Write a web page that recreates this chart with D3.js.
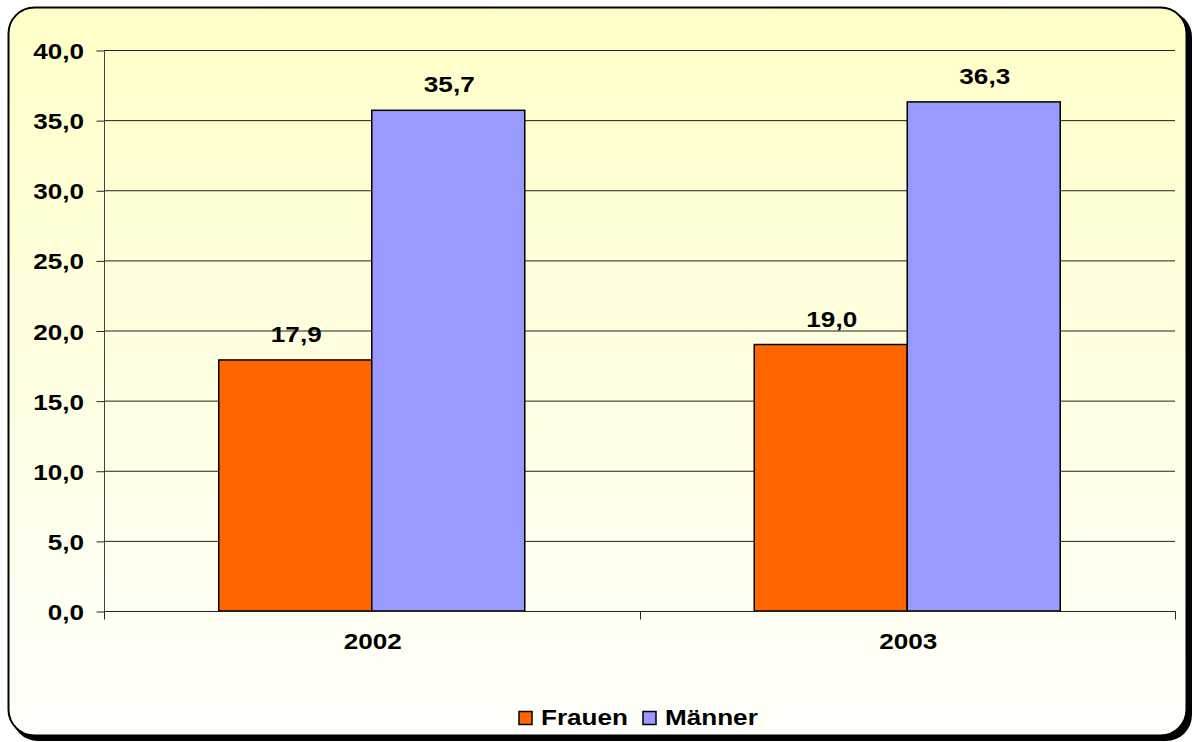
<!DOCTYPE html>
<html><head><meta charset="utf-8">
<script src="https://cdn.jsdelivr.net/npm/d3@7"></script>
<style>
html,body{margin:0;padding:0;background:#fff;}
svg{display:block;}
text{font-family:"Liberation Sans",Arial,sans-serif;font-weight:bold;fill:#000;}
</style></head>
<body>
<script>
const categories = ["2002", "2003"];
const seriesNames = ["Frauen", "Männer"];
const frauen = [17.9, 19.0];
const maenner = [35.7, 36.3];
const yTicks = [0, 5, 10, 15, 20, 25, 30, 35, 40];
const colors = ["#FF6600", "#9999FF"];

const W = 1193, H = 742;
const FS = 22.5, SX = 1.16;
const svg = d3.select("body").append("svg").attr("width", W).attr("height", H);
const defs = svg.append("defs");
const grad = defs.append("linearGradient").attr("id","bg").attr("x1",0).attr("y1",0).attr("x2",0).attr("y2",1);
grad.append("stop").attr("offset","0%").attr("stop-color","#FFFFC8");
grad.append("stop").attr("offset","100%").attr("stop-color","#FFFFFB");

// shadow + frame
svg.append("rect").attr("x",12).attr("y",11).attr("width",1180).attr("height",730).attr("rx",26).attr("fill","#000");
svg.append("rect").attr("x",8.5).attr("y",7.5).attr("width",1178).attr("height",728).attr("rx",26)
  .attr("fill","url(#bg)").attr("stroke","#000").attr("stroke-width",2);

const pLeft = 104, pRight = 1175, pTop = 50, pBottom = 611;
const y = d3.scaleLinear().domain([0,40]).range([pBottom, pTop]);
const x = d3.scaleBand().domain(categories).range([pLeft, pRight]).padding(0);
const bw = x.bandwidth();
const xs = d3.scaleBand().domain(seriesNames).range([bw*0.75/3.5, bw - bw*0.75/3.5]).padding(0);

const fmt = v => d3.format(".1f")(v).replace(".", ",");
function label(sel, px, py, anchor){
  return sel.attr("transform", `translate(${px},${py}) scale(${SX},1)`)
    .attr("text-anchor", anchor).attr("font-size", FS);
}

// gridlines
svg.append("g").selectAll("line").data(yTicks.filter(t=>t>0)).join("line")
  .attr("x1",pLeft).attr("x2",pRight).attr("y1",d=>y(d)+0.5).attr("y2",d=>y(d)+0.5)
  .attr("stroke","#222").attr("stroke-width",1);

// bars
const data = categories.map((c,i)=>({cat:c, vals:[frauen[i], maenner[i]]}));
const groups = svg.append("g").selectAll("g").data(data).join("g")
  .attr("transform", d=>`translate(${x(d.cat)},0)`);
const items = d=>d.vals.map((v,j)=>({s:seriesNames[j], v, j}));
groups.selectAll("rect").data(items).join("rect")
  .attr("x", d=>xs(d.s)).attr("width", xs.bandwidth())
  .attr("y", d=>y(d.v)).attr("height", d=>y(0)-y(d.v))
  .attr("fill", d=>colors[d.j]).attr("stroke","#000").attr("stroke-width",1.5);
groups.selectAll("text").data(items).join("text")
  .each(function(d){ label(d3.select(this), xs(d.s)+xs.bandwidth()/2+1, y(d.v)-18, "middle"); })
  .text(d=>fmt(d.v));

// y axis
const yAxis = d3.axisLeft(y).tickValues(yTicks).tickSize(8).tickFormat(fmt);
const gy = svg.append("g").attr("transform",`translate(${pLeft+0.5},0.5)`).call(yAxis);
gy.attr("font-family",null).attr("font-size",null);
gy.select(".domain").attr("stroke","#444").attr("d",`M0,${pTop}V${pBottom+7}`);
gy.selectAll(".tick line").attr("stroke","#222");
gy.selectAll(".tick text").attr("x",null).attr("dy",null).attr("fill","#000")
  .each(function(){ label(d3.select(this), -20.5, 8, "end"); });

// x axis
const gx = svg.append("g").attr("transform",`translate(0,${pBottom+0.5})`);
gx.append("line").attr("x1",pLeft).attr("x2",pRight+0.5).attr("y1",0).attr("y2",0).attr("stroke","#222");
const bounds = [pLeft, ...categories.map(c=>x(c)+bw)];
gx.selectAll("line.tk").data(bounds).join("line").attr("class","tk")
  .attr("x1",d=>Math.round(d)+0.5).attr("x2",d=>Math.round(d)+0.5).attr("y1",0).attr("y2",8).attr("stroke","#222");
gx.selectAll("text").data(categories).join("text")
  .each(function(d){ label(d3.select(this), x(d)+bw/2+1, 37.5, "middle"); })
  .text(d=>d);

// legend
const lg = svg.append("g");
const legendX = [519, 643];
seriesNames.forEach((s,i)=>{
  lg.append("rect").attr("x",legendX[i]).attr("y",711.5).attr("width",13).attr("height",13)
    .attr("fill",colors[i]).attr("stroke","#000").attr("stroke-width",1.5);
  label(lg.append("text"), legendX[i]+22, 725, "start").text(s);
});
</script>
</body></html>
